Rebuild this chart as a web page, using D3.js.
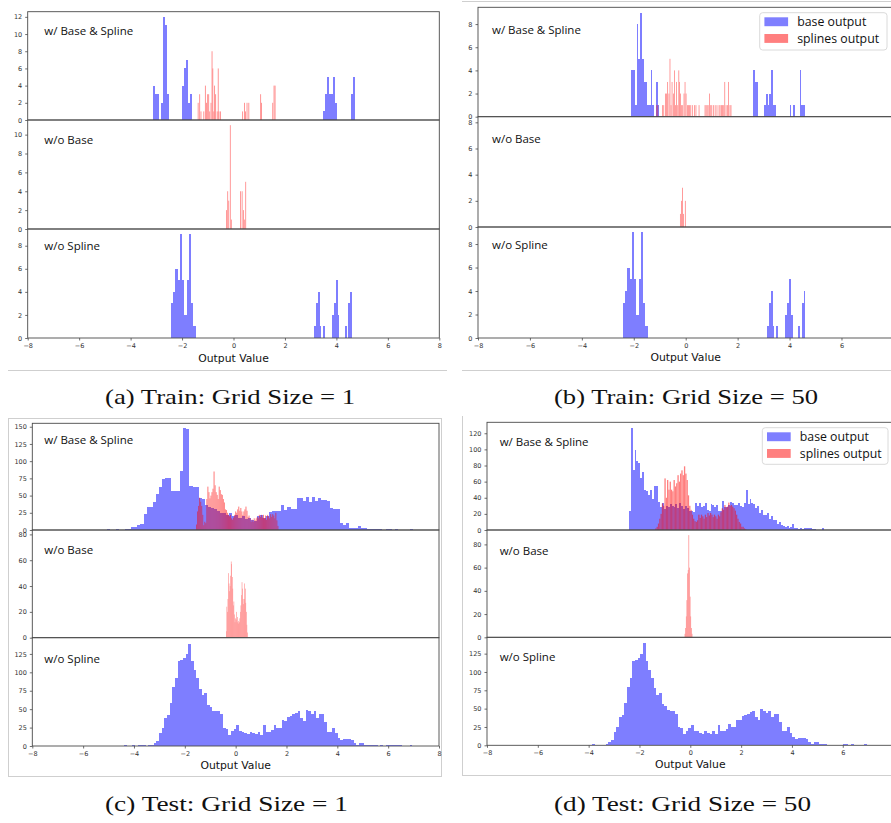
<!DOCTYPE html>
<html><head><meta charset="utf-8">
<script src="https://cdn.jsdelivr.net/npm/d3@7"></script>
<style>html,body{margin:0;padding:0;background:#fff;} svg{display:block;}</style>
</head><body>
<svg id="chart" width="891" height="823"></svg>
<script>
// ---------------- DATA ----------------
const xTicksFull = [-8,-6,-4,-2,0,2,4,6,8];
const xTicksCut  = [-8,-6,-4,-2,0,2,4,6];
const rowLabels = ["w/ Base & Spline", "w/o Base", "w/o Spline"];
const legendLabels = ["base output", "splines output"];
const captions = ["(a) Train: Grid Size = 1", "(b) Train: Grid Size = 50", "(c) Test: Grid Size = 1", "(d) Test: Grid Size = 50"];
const axisTitle = "Output Value";

// (a) Train, grid size 1 — w/ Base & Spline
const trainG1BaseWidth = 0.0784;
const trainG1BaseRuns = [[-3.12,[4,3,3,0,2,12,11,3]], [-2.02,[4,6,7,2,3]], [3.466,[1,3,5,3,3,5,2]], [4.563,[3,5]]];
const trainG1SplineWidth = 0.0315;
const trainG1SplineX = [-1.39,-1.33,-1.28,-1.17,-1.11,-1.07,-1.02,-0.98,-0.94,-0.89,-0.85,-0.82,-0.78,-0.75,-0.71,-0.65,-0.61,-0.58,-0.52,0.34,0.41,0.45,0.51,0.58,1.04,1.07,1.51,1.56,1.60];
const trainG1SplineN = [2,3,1,1,4,2,3,3,1,2,8,6,1,4,3,1,6,1,1,1,2,1,2,2,3,2,2,4,4];
// (a) w/o Base
const trainG1NoBaseWidth = 0.03;
const trainG1NoBaseX = [-0.29,-0.24,-0.20,-0.14,-0.10,0.26,0.32,0.37,0.42,0.46];
const trainG1NoBaseN = [2,4,3,11,1,4,4,2,1,5];

// (b) Train, grid size 50 — w/ Base & Spline
const trainG50BaseWidth = 0.067;
const trainG50BaseRuns = [[-2.09,[4,4,1,8,5,9,5,3,3,1,1,4,1,0,3,1]], [2.59,[4,3,3]], [3.02,[1,2,1,2,4,1,1]], [4.00,[1]], [4.13,[1]], [4.39,[4,1,1]]];
const trainG50SplineWidth = 0.029;
const trainG50SplineX = [-1.13,-1.09,-0.91,-0.86,-0.79,-0.75,-0.71,-0.66,-0.62,-0.58,-0.54,-0.49,-0.45,-0.41,-0.37,-0.32,-0.28,-0.25,-0.21,-0.17,-0.13,-0.08,-0.04,0.00,0.05,0.09,0.13,0.18,0.24,0.32,0.38,0.50,0.73,0.77,0.81,0.85,0.90,0.95,0.99,1.05,1.12,1.19,1.27,1.31,1.36,1.40,1.45,1.49,1.54,1.59,1.63,1.69,1.73];
const trainG50SplineN = [1,1,1,1,2,2,3,2,5,1,3,2,4,1,3,1,4,3,2,1,1,2,3,2,1,1,1,1,1,1,1,1,1,1,1,1,2,1,1,1,1,1,1,1,1,1,1,3,1,1,3,1,1];
// (b) w/o Base
const trainG50NoBaseWidth = 0.03;
const trainG50NoBaseX = [-0.22,-0.18,-0.14,-0.10,-0.03];
const trainG50NoBaseN = [1,2,3,1,2];

// Train w/o Spline (same in (a) and (b))
const trainNoSplineWidth = 0.07;
const trainNoSplineRuns = [[-2.42,[3,4,6,6,5,9,5,2,2,5,9,3,1,1]], [3.14,[1,3,4,1,0,1,0,0,0,0,2,3,5,2,0,0,0,1,0,3,4]]];

// (c) Test, grid size 1 — w/ Base & Spline
const testG1BaseStart = -5.07, testG1BaseWidth = 0.1205;
const testG1BaseN = [1,0,0,2,0,0,2,1,4,5, 7,9,23,34,33,40,53,62,74,75, 76,57,57,56,86,148,146,64,63,62, 46,45,36,33,32,30,28,25,25,22, 24,20,22,18,20,16,18,14,13,20, 22,17,21,26,28,27,28,36,29,34, 30,30,46,47,42,48,40,48,42,46, 44,43,42,32,30,30,10,7,10,3, 3,3,6,3,3,2,2,2,2,1, 0,1,2,0,1,0,0,0,0,1];
const testG1SplineStart = -1.558, testG1SplineWidth = 0.0405;
const testG1SplineN = [8,27,35,47,41,35,22,7,12,10, 45,63,55,46,50,55,60,85,65,55, 51,45,63,58,52,51,45,40,30,29, 25,22,20,22,17,15,18,22,27,25, 30,34,28,32,27,22,27,30,34,28, 19,21,17,12,15,12,17,14,17,19, 17,22,19,22,18,22,17,21,15,22, 20,17,23,19,23,21,17,25,14,6];
// (c) w/o Base
const testG1NoBaseStart = -0.378, testG1NoBaseWidth = 0.0213;
const testG1NoBaseN = [5,24,20,30,50,42,36,40,48,59, 57,47,38,25,28,18,12,15,14,20, 12,16,11,13,12,15,20,25,33,43, 38,30,26,30,42,38,27,20,10,4];

// (d) Test, grid size 50 — w/ Base & Spline
const testG50BaseStart = -2.425, testG50BaseWidth = 0.0767;
const testG50BaseN = [24,127,74,99,85,83,64,72,50,48, 43,50,38,54,55,35,29,33,26,30, 28,32,30,29,32,27,33,30,26,30, 27,24,23,22,34,30,33,28,30,33, 25,23,32,31,28,31,23,24,36,29, 29,31,35,33,31,31,33,30,29,33, 49,32,38,34,32,27,30,21,25,19, 19,21,14,17,12,12,8,10,6,5, 4,5,3,4,8,2,2,1,2,1, 3,3,2,3,1,1,0,0,0,3];
const testG50SplineStart = -1.377, testG50SplineWidth = 0.0512;
const testG50SplineN = [2,4,8,14,20,33,30,64,40,62, 50,60,50,48,62,54,58,68,60,70, 74,68,79,70,62,43,30,25,19,14, 11,10,12,19,15,19,17,14,19,16, 21,18,21,19,16,19,17,14,19,17, 22,27,25,31,28,29,34,30,31,29, 27,24,19,14,10,8,4,4,2,1];
// (d) w/o Base
const testG50NoBaseStart = -0.222, testG50NoBaseWidth = 0.0252;
const testG50NoBaseN = [3,8,18,32,55,58,88,60,35,18,8,3];

// Test w/o Spline (same in (c) and (d))
const testNoSplineStart = -4.38, testNoSplineWidth = 0.1049;
const testNoSplineN = [1,0,0,1,0,2,1,1,0,1, 2,4,7,18,25,38,42,58,80,92, 115,117,119,125,139,115,103,92,78,69, 72,56,53,48,47,47,43,25,23,15, 20,23,28,20,19,17,16,19,17,16, 19,15,28,19,19,22,29,25,25,35, 34,40,41,43,45,47,38,34,49,47, 44,47,38,43,43,32,19,19,25,17, 11,8,10,10,10,8,4,2,4,4, 2,2,2,1,1,0,1,0,1,2, 2,1,2,1,0,0,0,2];

// ---------------- HELPERS ----------------
function binsFromRuns(runs, w) {
  return runs.flatMap(([s, ns]) => ns.map((n, i) => ({x0: s + i * w, x1: s + (i + 1) * w, n}))).filter(b => b.n > 0);
}
function binsFromPoints(xs, ns, w) { return xs.map((x, i) => ({x0: x, x1: x + w, n: ns[i]})); }
function binsFromStart(s, w, ns) { return binsFromRuns([[s, ns]], w); }

const BLUE = "#0000ff", RED = "#ff0000";
const range = (a, b, s) => d3.range(a, b + s / 2, s);

// ---------------- LAYOUT ----------------
const panels = [
  { x0: 27.7, x1: 439.3, xticks: xTicksFull, labelX: 44.3,
    rows: [
      {top: 11.7, bottom: 120, ymax: 12.6, ticks: range(0,12,2), labelY: 30.7,
       series: [{bins: binsFromRuns(trainG1BaseRuns, trainG1BaseWidth), color: BLUE, crisp: true},
                {bins: binsFromPoints(trainG1SplineX, trainG1SplineN, trainG1SplineWidth), color: RED}]},
      {top: 120, bottom: 229, ymax: 11.55, ticks: range(0,10,2), labelY: 139.7,
       series: [{bins: binsFromPoints(trainG1NoBaseX, trainG1NoBaseN, trainG1NoBaseWidth), color: RED}]},
      {top: 229, bottom: 338, ymax: 9.45, ticks: range(0,8,2), labelY: 245.7,
       series: [{bins: binsFromRuns(trainNoSplineRuns, trainNoSplineWidth), color: BLUE, crisp: true}]}
    ], titleX: 233.5, titleY: 358 },
  { x0: 478, x1: 893.4, xticks: xTicksCut, labelX: 492,
    legend: {x: 759.7, y: 12.7, w: 127.3, h: 37.3},
    rows: [
      {top: 7.3, bottom: 116.7, ymax: 9.45, ticks: range(0,8,2), labelY: 29.3,
       series: [{bins: binsFromRuns(trainG50BaseRuns, trainG50BaseWidth), color: BLUE, crisp: true},
                {bins: binsFromPoints(trainG50SplineX, trainG50SplineN, trainG50SplineWidth), color: RED}]},
      {top: 116.7, bottom: 227, ymax: 8.43, ticks: range(0,8,2), labelY: 138.7,
       series: [{bins: binsFromPoints(trainG50NoBaseX, trainG50NoBaseN, trainG50NoBaseWidth), color: RED}]},
      {top: 227, bottom: 338, ymax: 9.45, ticks: range(0,8,2), labelY: 244.7,
       series: [{bins: binsFromRuns(trainNoSplineRuns, trainNoSplineWidth), color: BLUE, crisp: true}]}
    ], titleX: 685.7, titleY: 357 },
  { x0: 32.3, x1: 439, xticks: xTicksFull, labelX: 44.3,
    rows: [
      {top: 423.3, bottom: 530, ymax: 155, ticks: range(0,150,25), labelY: 439,
       series: [{bins: binsFromStart(testG1BaseStart, testG1BaseWidth, testG1BaseN), color: BLUE, crisp: true},
                {bins: binsFromStart(testG1SplineStart, testG1SplineWidth, testG1SplineN), color: RED}]},
      {top: 530, bottom: 637.7, ymax: 83.4, ticks: range(0,80,20), labelY: 549.3,
       series: [{bins: binsFromStart(testG1NoBaseStart, testG1NoBaseWidth, testG1NoBaseN), color: RED}]},
      {top: 637.7, bottom: 746, ymax: 147, ticks: range(0,125,25), labelY: 658.3,
       series: [{bins: binsFromStart(testNoSplineStart, testNoSplineWidth, testNoSplineN), color: BLUE, crisp: true}]}
    ], titleX: 235.7, titleY: 765 },
  { x0: 487, x1: 893.6, xticks: xTicksCut, labelX: 499.7,
    legend: {x: 762.3, y: 427.7, w: 125.7, h: 36.6},
    rows: [
      {top: 422.3, bottom: 530, ymax: 133.6, ticks: range(0,120,20), labelY: 441,
       series: [{bins: binsFromStart(testG50BaseStart, testG50BaseWidth, testG50BaseN), color: BLUE, crisp: true},
                {bins: binsFromStart(testG50SplineStart, testG50SplineWidth, testG50SplineN), color: RED}]},
      {top: 530, bottom: 637.3, ymax: 92.4, ticks: range(0,80,20), labelY: 550.3,
       series: [{bins: binsFromStart(testG50NoBaseStart, testG50NoBaseWidth, testG50NoBaseN), color: RED}]},
      {top: 637.3, bottom: 745.3, ymax: 147.3, ticks: range(0,125,25), labelY: 656.7,
       series: [{bins: binsFromStart(testNoSplineStart, testNoSplineWidth, testNoSplineN), color: BLUE, crisp: true}]}
    ], titleX: 690.3, titleY: 764.3 }
];

const svg = d3.select("#chart");
svg.append("rect").attr("width", 891).attr("height", 823).attr("fill", "#fff");

// screenshot borders
const border = svg.append("g").attr("stroke", "#cfcfcf").attr("stroke-width", 1).attr("fill", "none");
border.append("line").attr("x1", 8).attr("x2", 447).attr("y1", 370.5).attr("y2", 370.5);
border.append("line").attr("x1", 462).attr("x2", 891).attr("y1", 1.5).attr("y2", 1.5);
border.append("line").attr("x1", 462).attr("x2", 891).attr("y1", 370.5).attr("y2", 370.5);
border.append("rect").attr("x", 8.5).attr("y", 418.5).attr("width", 433).attr("height", 358);
border.append("line").attr("x1", 462.5).attr("x2", 462.5).attr("y1", 416).attr("y2", 776);
border.append("line").attr("x1", 462).attr("x2", 891).attr("y1", 775.5).attr("y2", 775.5);

const FRAME = "#4a4a4a";
const TICKFONT = "DejaVu Sans, sans-serif";

panels.forEach((p, pi) => {
  const g = svg.append("g");
  const x = d3.scaleLinear().domain([-8, 8]).range([p.x0, p.x1]);
  p.rows.forEach((r, ri) => {
    const y = d3.scaleLinear().domain([0, r.ymax]).range([r.bottom, r.top]);
    const rg = g.append("g");
    r.series.forEach(s => {
      const sg = rg.append("g").attr("opacity", 0.5);
      sg.selectAll("rect").data(s.bins).join("rect")
        .attr("x", d => x(d.x0))
        .attr("width", d => x(d.x1) - x(d.x0))
        .attr("y", d => y(d.n))
        .attr("height", d => y(0) - y(d.n))
        .attr("fill", s.color)
        .attr("shape-rendering", s.crisp ? "crispEdges" : null);
    });
    // y axis
    const ax = rg.append("g").attr("transform", `translate(${p.x0},0)`)
      .call(d3.axisLeft(y).tickValues(r.ticks).tickSize(2.5).tickPadding(3).tickFormat(d3.format("d")));
    ax.select(".domain").remove();
    ax.selectAll(".tick line").attr("stroke", FRAME).attr("stroke-width", 0.8);
    ax.selectAll(".tick text").attr("fill", "#333").attr("font-size", 6.5).attr("font-family", TICKFONT);
    // frame
    rg.append("rect").attr("x", p.x0).attr("y", r.top).attr("width", p.x1 - p.x0).attr("height", r.bottom - r.top)
      .attr("fill", "none").attr("stroke", FRAME).attr("stroke-width", 0.9);
    // label
    rg.append("text").attr("x", p.labelX).attr("y", r.labelY).attr("dominant-baseline", "central")
      .attr("font-family", "Open Sans, sans-serif").attr("font-size", 11.5).attr("fill", "#111")
      .text(rowLabels[ri]);
    if (ri === 2) {
      const xa = rg.append("g").attr("transform", `translate(0,${r.bottom})`)
        .call(d3.axisBottom(x).tickValues(p.xticks).tickSize(2.5).tickPadding(3));
      xa.select(".domain").remove();
      xa.selectAll(".tick line").attr("stroke", FRAME).attr("stroke-width", 0.8);
      xa.selectAll(".tick text").attr("fill", "#333").attr("font-size", 6.5).attr("font-family", TICKFONT);
    }
  });
  // x title
  g.append("text").attr("x", p.titleX).attr("y", p.titleY).attr("text-anchor", "middle").attr("dominant-baseline", "central")
    .attr("font-family", TICKFONT).attr("font-size", 10.8).attr("fill", "#111").text(axisTitle);
  // legend
  if (p.legend) {
    const L = p.legend;
    const lg = g.append("g");
    lg.append("rect").attr("x", L.x).attr("y", L.y).attr("width", L.w).attr("height", L.h).attr("rx", 3)
      .attr("fill", "#fff").attr("fill-opacity", 0.85).attr("stroke", "#d6d6d6").attr("stroke-width", 0.9);
    [BLUE, RED].forEach((c, i) => {
      const yy = L.y + 4.6 + i * 16.7;
      lg.append("rect").attr("x", L.x + 4.7).attr("y", yy).attr("width", 23.7).attr("height", 8.9)
        .attr("fill", c).attr("opacity", 0.5);
      lg.append("text").attr("x", L.x + 37.5).attr("y", yy + 4.5).attr("dominant-baseline", "central")
        .attr("font-family", "Open Sans, sans-serif").attr("font-size", 12.3).attr("fill", "#111").text(legendLabels[i]);
    });
  }
});

// captions
const capPos = [[230, 404, 250], [686, 404, 264], [226.5, 811, 243], [682.5, 811, 257]];
captions.forEach((c, i) => {
  svg.append("text").attr("x", capPos[i][0]).attr("y", capPos[i][1]).attr("text-anchor", "middle")
    .attr("font-family", "Liberation Serif, serif").attr("font-size", 22).attr("fill", "#111")
    .attr("textLength", capPos[i][2]).attr("lengthAdjust", "spacingAndGlyphs").text(c);
});
</script>
</body></html>
